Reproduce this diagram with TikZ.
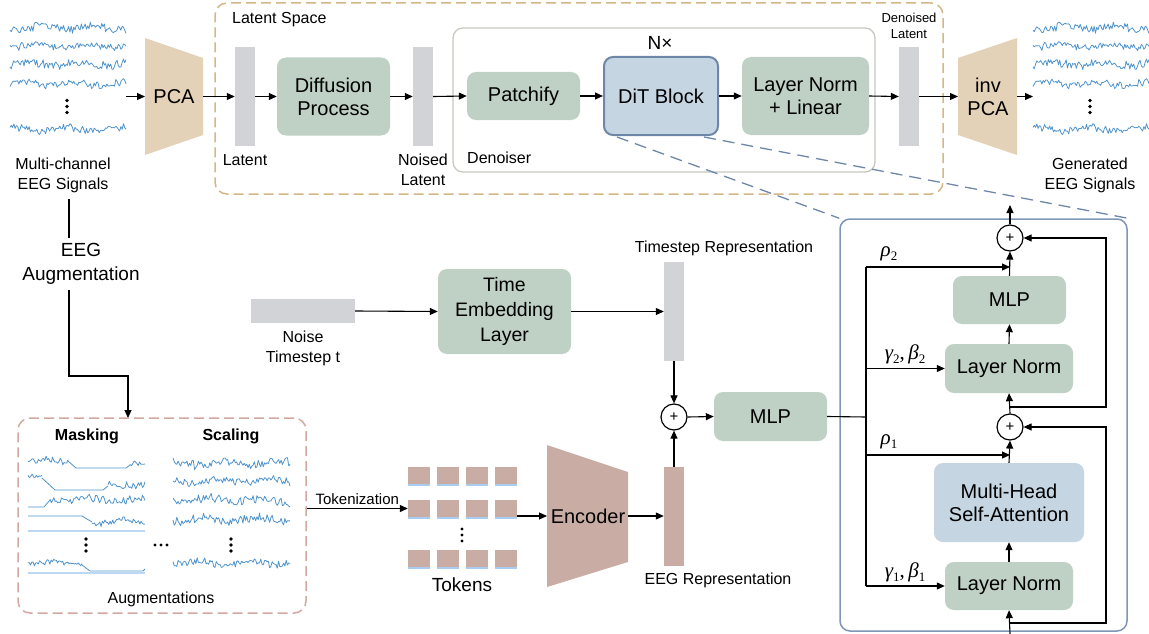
\documentclass[tikz,border=0pt]{standalone}
\usepackage{fontspec}
\setmainfont{Liberation Sans}
\newfontfamily\tms{Liberation Serif}
\usetikzlibrary{arrows.meta,calc,shadows}
\definecolor{gfill}{RGB}{191,208,196}
\definecolor{tanf}{RGB}{227,209,184}
\definecolor{barg}{RGB}{210,211,214}
\definecolor{bfill}{RGB}{197,213,226}
\definecolor{bdraw}{RGB}{110,135,168}
\definecolor{rosef}{RGB}{201,173,165}
\definecolor{tandash}{RGB}{212,183,135}
\definecolor{rosedash}{RGB}{210,168,160}
\definecolor{dgray}{RGB}{200,200,192}
\definecolor{pborder}{RGB}{128,150,181}
\definecolor{sigc}{RGB}{80,148,205}
\definecolor{glow}{RGB}{160,200,238}
\newcommand\eegsig[5]{\pgfmathsetseed{#5}\pgfmathtruncatemacro\nsmp{(#2-#1)/1.25}%
  \draw[sig] plot[domain=#1:#2,samples=\nsmp] (\x,{#3+#4*(0.65*rand+0.2*sin((\x-#1)*53)+0.35*sin((\x-#1)*7+#5*47))});}
\newcommand\vdts[2]{\fill (#1,#2-6) circle (1.8pt); \fill (#1,#2) circle (1.8pt); \fill (#1,#2+6) circle (1.8pt);}
\newcommand\grk[2]{{\tms\itshape #1}\raisebox{-4pt}{\tms\fontsize{13}{13}\selectfont #2}}
\begin{document}
\begin{tikzpicture}[x=1pt,y=-1pt,
  f20/.style={font=\fontsize{20}{23}\selectfont},
  f19/.style={font=\fontsize{19}{24}\selectfont},
  f16/.style={font=\fontsize{16}{20}\selectfont},
  f15/.style={font=\fontsize{15}{18}\selectfont},
  f13/.style={font=\fontsize{13}{16}\selectfont},
  gbox/.style={fill=gfill, rounded corners=9pt, inner sep=0pt, align=center, f20},
  bbox/.style={fill=bfill, rounded corners=9pt, inner sep=0pt, align=center, f20},
  bar/.style={fill=barg, inner sep=0pt, minimum width=20pt, minimum height=99pt},
  rbar/.style={fill=rosef, inner sep=0pt, minimum width=20pt, minimum height=99pt},
  tok/.style={fill=rosef, inner sep=0pt, minimum width=22pt, minimum height=17pt,
    drop shadow={shadow xshift=0pt, shadow yshift=-2pt, fill=glow, opacity=0.9}},
  arr/.style={-{Triangle[length=8pt,width=7pt]}, line width=1.1pt},
  ln/.style={line width=1.1pt},
  pl/.style={circle, draw, line width=1.2pt, fill=white, minimum size=26pt, inner sep=0pt, font=\fontsize{15}{15}\selectfont},
  sig/.style={draw=sigc, line width=0.8pt, line join=round},
  lbl/.style={inner sep=0pt, align=center},
  glab/.style={inner sep=0pt, font=\fontsize{21}{21}\selectfont},
  dline/.style={draw=bdraw, line width=1.3pt, dash pattern=on 12pt off 7pt}
]
\useasboundingbox (0,0) rectangle (1149,634);

% ---------- top: latent space & denoiser frames
\node[draw=tandash, line width=1.5pt, dash pattern=on 10pt off 5pt, rounded corners=12pt,
  minimum width=728pt, minimum height=191pt, inner sep=0pt] (lspace) at (579,98.5) {};
\node[f16, anchor=west, inner sep=0pt] (lslab) at (232,20) {Latent Space};
\node[draw=dgray, line width=1.3pt, rounded corners=10pt, minimum width=422pt, minimum height=144pt,
  inner sep=0pt] (denoiser) at (664,100) {};
\node[f16, anchor=west, inner sep=0pt] (denlab) at (467,158) {Denoiser};

% ---------- left signals
\eegsig{10}{126}{28}{6}{1}
\eegsig{10}{126}{46}{4.5}{2}
\eegsig{10}{126}{64}{6}{3}
\eegsig{10}{126}{84}{5}{4}
\eegsig{10}{126}{129}{5}{5}
\vdts{67}{106.5}
\coordinate (sigLend) at (126,96.5);
\node[lbl, f16] (sigLlab) at (63,175) {Multi-channel\\EEG Signals};

% ---------- PCA
\fill[tanf] (145,38) -- (203,58) -- (203,135) -- (145,155) -- cycle;
\node[f20, inner sep=0pt] (pca) at (174,96.5) {PCA};
\coordinate (pcaW) at (145,96.5);
\coordinate (pcaE) at (203,96.5);

\node[bar] (lat) at (245,96.5) {};
\node[f16, inner sep=0pt] (latlab) at (245,160) {Latent};
\node[gbox, minimum width=113pt, minimum height=78pt] (diff) at (333.5,96.5) {Diffusion\\Process};
\node[bar] (nlat) at (423,96.5) {};
\node[lbl, f16] (nlatlab) at (423,170) {Noised\\Latent};
\node[gbox, minimum width=113pt, minimum height=48pt] (patch) at (523.5,96) {Patchify};
\node[f19, inner sep=0pt] (nx) at (660,43) {N×};
\node[bbox, draw=bdraw, line width=2pt, minimum width=114pt, minimum height=78pt] (dit) at (661,96) {DiT Block};
\node[gbox, minimum width=127pt, minimum height=78pt] (lnlin) at (805.5,96) {Layer Norm\\+ Linear};
\node[bar] (dlat) at (909,96.5) {};
\node[lbl, f13] (dlatlab) at (909,26) {Denoised\\Latent};

\fill[tanf] (958,58) -- (1017,38) -- (1017,155) -- (958,135) -- cycle;
\node[lbl, f20] (ipca) at (988,96.5) {inv\\PCA};
\coordinate (ipcaW) at (958,96.5);
\coordinate (ipcaE) at (1017,96.5);

% right signals
\eegsig{1033}{1149}{28}{6}{1}
\eegsig{1033}{1149}{46}{4.5}{2}
\eegsig{1033}{1149}{64}{6}{3}
\eegsig{1033}{1149}{84}{5}{4}
\eegsig{1033}{1149}{129}{5}{5}
\vdts{1090}{106.5}
\coordinate (sigRbeg) at (1033,96.5);
\node[lbl, f16] (sigRlab) at (1090,175) {Generated\\EEG Signals};

\draw[arr] (sigLend) -- (pcaW);
\draw[arr] (pcaE) -- (lat.west);
\draw[arr] (lat.east) -- (diff.west);
\draw[arr] (diff.east) -- (nlat.west);
\draw[arr] (nlat.east) -- (patch.west);
\draw[arr] (patch.east) -- (dit.west);
\draw[arr] (dit.east) -- (lnlin.west);
\draw[arr] (lnlin.east) -- (dlat.west);
\draw[arr] (dlat.east) -- (ipcaW);
\draw[arr] (ipcaE) -- (sigRbeg);

% ---------- right panel (DiT block detail)
\node[draw=pborder, line width=1.5pt, rounded corners=10pt, minimum width=287pt, minimum height=412pt,
  inner sep=0pt, fill=white] (panel) at (983.5,425) {};
\draw[dline] ($(dit.south west)+(14,1)$) -- (panel.north west);
\draw[dline] ($(dit.south east)+(-15,1)$) -- (panel.north east);

\node[pl] (p2) at (1010,238) {+};
\node[gbox, minimum width=113pt, minimum height=48pt] (mlp2) at (1009.5,300) {MLP};
\node[gbox, minimum width=128pt, minimum height=49pt] (ln2) at (1009,368.5) {Layer Norm};
\node[pl] (p1) at (1010,427) {+};
\node[bbox, minimum width=150pt, minimum height=79pt] (mhsa) at (1009,502.5) {Multi-Head\\Self-Attention};
\node[gbox, minimum width=128pt, minimum height=48pt] (ln1) at (1009,586) {Layer Norm};

\coordinate (outp) at (1010,205);
\coordinate (inp) at (1010,634);
\coordinate (fb1) at (1010,623);
\coordinate (fb2) at (1010,407);
\draw[arr] (p2.north) -- (outp);
\draw[arr] (mlp2.north) -- (p2.south);
\draw[arr] (ln2.north) -- (mlp2.south);
\draw[arr] (p1.north) -- (ln2.south);
\draw[arr] (mhsa.north) -- (p1.south);
\draw[arr] (ln1.north) -- (mhsa.south);
\draw[arr] (inp) -- (ln1.south);
\draw[arr] (fb2) -- ++(96,0) |- (p2.east);
\draw[arr] (fb1) -- ++(96,0) |- (p1.east);

\coordinate (vtop) at (866,267);
\coordinate (vg2) at (866,368.5);
\coordinate (vr1) at (866,455);
\coordinate (vbot) at (866,586);
\coordinate (vmid) at (866,417);
\draw[ln] (vtop) -- (vbot);
\draw[arr] (vtop) -- (vtop -| p2);
\draw[arr] (vg2) -- (ln2.west);
\draw[arr] (vr1) -- (vr1 -| p1);
\draw[arr] (vbot) -- (ln1.west);
\node[glab] (r2lab) at (889,254) {\grk{ρ}{2}};
\node[glab] (gb2lab) at (905,354) {\grk{γ}{2}{\tms ,\,}\grk{β}{2}};
\node[glab] (r1lab) at (889,442) {\grk{ρ}{1}};
\node[glab] (gb1lab) at (905,572) {\grk{γ}{1}{\tms ,\,}\grk{β}{1}};

% ---------- timestep branch
\node[fill=barg, inner sep=0pt, minimum width=104pt, minimum height=24pt] (nbar) at (303,311) {};
\node[lbl, f16] (nbarlab) at (303,348) {Noise\\Timestep t};
\node[gbox, minimum width=133pt, minimum height=85pt, font=\fontsize{19.5}{25}\selectfont] (te) at (504.5,311.5) {Time\\Embedding\\Layer};
\node[bar] (tbar) at (674,311.5) {};
\node[f16, inner sep=0pt] (tbarlab) at (724,248) {Timestep Representation};
\node[pl] (p0) at (674,417) {+};
\node[gbox, minimum width=113pt, minimum height=49pt] (mlp) at (770.5,416.5) {MLP};
\draw[arr] (nbar.east) -- (te.west);
\draw[arr] (te.east) -- (tbar.west);
\draw[arr] (tbar.south) -- (p0.north);
\draw[arr] (p0.east) -- (mlp.west);
\draw[ln] (mlp.east) -- (vmid);

% ---------- EEG augmentation path
\node[lbl, f19] (auglab) at (81,264) {EEG\\Augmentation};
\coordinate (a1) at (69,199);
\coordinate (a2) at (69,238);
\coordinate (a3) at (69,290);
\coordinate (augin) at (128,418);
\draw[ln] (a1) -- (a2);
\draw[arr] (a3) |- (128,376) -- (augin);

\node[draw=rosedash, line width=1.5pt, dash pattern=on 10pt off 5pt, rounded corners=12pt,
  minimum width=288pt, minimum height=195pt, inner sep=0pt] (augbox) at (162,515.5) {};
\node[font=\bfseries\fontsize{16}{20}\selectfont, inner sep=0pt] (masklab) at (87,436) {Masking};
\node[font=\bfseries\fontsize{16}{20}\selectfont, inner sep=0pt] (scallab) at (231,436) {Scaling};
\node[f16, inner sep=0pt] (augslab) at (161,599) {Augmentations};

% masking panel
\fill[white, drop shadow={shadow xshift=0pt, shadow yshift=-2pt, fill=glow, opacity=0.7}] (28,454) rectangle (145,530);
\fill[white, drop shadow={shadow xshift=0pt, shadow yshift=-2pt, fill=glow, opacity=0.7}] (28,555) rectangle (145,572);
\eegsig{28}{68}{461}{4.5}{11}
\draw[sig] (68,461) -- (76,468) -- (126,468) -- (130,465);
\eegsig{130}{145}{464}{3}{12}
\eegsig{28}{42}{478}{4.5}{13}
\draw[sig] (42,478) -- (55,490) -- (103,490) -- (108,486);
\eegsig{108}{145}{484}{5}{14}
\draw[sig] (28,507) -- (44,507) -- (50,500);
\eegsig{50}{145}{500}{5}{15}
\draw[sig] (28,516) -- (82,516) -- (92,522);
\eegsig{92}{145}{522}{5}{16}
\eegsig{28}{82}{563}{3.5}{17}
\draw[sig] (82,565) -- (90,571) -- (143,571) -- (145,569);
\vdts{86}{545}
\fill (155,545) circle (1.6pt); \fill (161,545) circle (1.6pt); \fill (167,545) circle (1.6pt);
% scaling
\eegsig{173}{290}{463}{6}{21}
\eegsig{173}{290}{481}{5}{22}
\eegsig{173}{290}{500}{6}{23}
\eegsig{173}{290}{519}{6}{24}
\eegsig{173}{290}{563}{5}{25}
\vdts{231}{545}

% ---------- tokens & encoder
\foreach \r/\yy in {1/475,2/508.5,3/558.5}{
  \foreach \c/\xx in {1/419,2/448,3/477,4/506}{
    \node[tok] (t\r\c) at (\xx,\yy) {};
  }
}
\fill (462,529) circle (1.6pt); \fill (462,535) circle (1.6pt); \fill (462,541) circle (1.6pt);
\node[f19, inner sep=0pt] (toklab) at (462,585) {Tokens};
\draw[arr] (augbox.east |- t21.west) -- node[above=3pt, f15, inner sep=0pt] {Tokenization} (t21.west);

\fill[rosef] (547,445) -- (628,472) -- (628,562) -- (547,587) -- cycle;
\node[f20, inner sep=0pt] (enc) at (588,516) {Encoder};
\coordinate (encW) at (547,516);
\coordinate (encE) at (628,516);
\node[rbar] (ebar) at (674,516.5) {};
\node[f16, inner sep=0pt] (ebarlab) at (718,580) {EEG Representation};
\draw[arr] (t24.east |- encW) -- (encW);
\draw[arr] (encE) -- (encE -| ebar.west);
\draw[arr] (ebar.north) -- (p0.south);
\end{tikzpicture}
\end{document}
